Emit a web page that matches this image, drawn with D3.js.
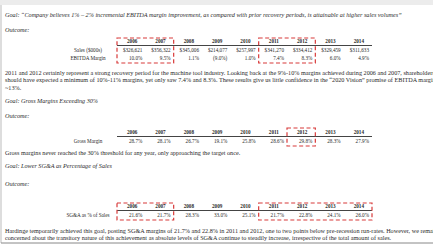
<!DOCTYPE html>
<html>
<head>
<meta charset="utf-8">
<script src="https://cdn.jsdelivr.net/npm/d3@7"></script>
<style>
  body { margin: 0; background: #fff; overflow: hidden; }
  svg text { font-family: "Liberation Serif", "Times New Roman", serif; fill: #2a2a2a; }
</style>
</head>
<body>
<svg id="canvas" width="433" height="247"></svg>
<script>
const years = ['2006', '2007', '2008', '2009', '2010', '2011', '2012', '2013', '2014'];

const sales = ['$326,621', '$356,322', '$345,006', '$214,077', '$257,997', '$341,270', '$334,412', '$329,459', '$311,633'];
const ebitdaMargin = ['10.0%', '9.5%', '1.1%', '(9.0%)', '1.0%', '7.4%', '8.3%', '6.0%', '4.9%'];
const grossMargin = ['28.7%', '28.1%', '26.7%', '19.1%', '25.8%', '28.6%', '29.8%', '28.3%', '27.9%'];
const sgaPct = ['21.6%', '21.7%', '28.3%', '33.0%', '25.1%', '21.7%', '22.8%', '24.1%', '26.0%'];

// highlighted year ranges per table
const box1 = [['2006', '2007'], ['2011', '2012']];
const box2 = [['2012', '2012']];
const box3 = [['2006', '2007'], ['2011', '2014']];

const goal1 = 'Goal: \u201cCompany believes 1% \u2013 2% incremental EBITDA margin improvement, as compared with prior recovery periods, is attainable at higher sales volumes\u201d';
const para1 = [
  '2011 and 2012 certainly represent a strong recovery period for the machine tool industry. Looking back at the 9%-10% margins achieved during 2006 and 2007, shareholders',
  'should have expected a minimum of 10%-11% margins, yet only saw 7.4% and 8.3%. These results give us little confidence in the \u201c2020 Vision\u201d promise of EBITDA margins of',
  '~13%.'
];
const goal2 = 'Goal: Gross Margins Exceeding 30%';
const para2 = ['Gross margins never reached the 30% threshold for any year, only approaching the target once.'];
const goal3 = 'Goal: Lower SG&A as Percentage of Sales';
const para3 = [
  'Hardinge temporarily achieved this goal, posting SG&A margins of 21.7% and 22.8% in 2011 and 2012, one to two points below pre-recession run-rates. However, we remain',
  'concerned about the transitory nature of this achievement as absolute levels of SG&A continue to steadily increase, irrespective of the total amount of sales.'
];

const svg = d3.select('#canvas');
const fs = 6.2;
const tfs = 5.2;

// page frame
svg.append('rect').attr('x', 0).attr('y', 0).attr('width', 433).attr('height', 5).attr('fill', '#ececec');
svg.append('line').attr('x1', 1).attr('x2', 1).attr('y1', 5).attr('y2', 243).attr('stroke', '#bbb');
svg.append('line').attr('x1', 1).attr('x2', 433).attr('y1', 243).attr('y2', 243).attr('stroke', '#888');

const x = d3.scaleBand().domain(years).range([117, 372]);

const textLine = (str, y, italic) => {
  svg.append('text')
    .attr('x', 5).attr('y', y)
    .attr('font-size', fs)
    .attr('font-style', italic ? 'italic' : 'normal')
    .text(str);
};

const paragraph = (lines, y0) => {
  lines.forEach((l, i) => textLine(l, y0 + i * 7.4, false));
};

const drawTable = (headerY, rows, boxes, boxTop, boxBottom) => {
  const g = svg.append('g');
  g.selectAll('text.year')
    .data(years)
    .enter()
    .append('text')
    .attr('class', 'year')
    .attr('x', (d) => x(d) + x.bandwidth() / 2 + 1)
    .attr('y', headerY)
    .attr('text-anchor', 'middle')
    .attr('font-size', tfs)
    .attr('font-weight', 'bold')
    .text((d) => d);

  g.append('line')
    .attr('x1', x.range()[0]).attr('x2', x.range()[1])
    .attr('y1', headerY + 2.5).attr('y2', headerY + 2.5)
    .attr('stroke', '#444').attr('stroke-width', 1);

  rows.forEach((row, i) => {
    const y = headerY + 9 + i * 8;
    g.append('text')
      .attr('x', 88).attr('y', y)
      .attr('text-anchor', 'middle')
      .attr('font-size', tfs)
      .text(row.label);
    g.selectAll(null)
      .data(row.values)
      .enter()
      .append('text')
      .attr('x', (d, j) => x(years[j]) + x.bandwidth() - 3)
      .attr('y', y)
      .attr('text-anchor', 'end')
      .attr('font-size', tfs)
      .text((d) => d);
  });

  g.selectAll('rect.box')
    .data(boxes)
    .enter()
    .append('rect')
    .attr('class', 'box')
    .attr('x', (d) => x(d[0]))
    .attr('y', boxTop)
    .attr('width', (d) => x(d[1]) + x.bandwidth() - x(d[0]))
    .attr('height', boxBottom - boxTop)
    .attr('fill', 'none')
    .attr('stroke', '#d83a3a')
    .attr('stroke-width', 1.2)
    .attr('stroke-dasharray', '4,2.5');
};

// section 1
textLine(goal1, 17, true);
textLine('Outcome:', 32, true);
drawTable(43, [
  { label: 'Sales ($000s)', values: sales },
  { label: 'EBITDA Margin', values: ebitdaMargin }
], box1, 38, 63);
paragraph(para1, 75);

// section 2
textLine(goal2, 103, true);
textLine('Outcome:', 118, true);
drawTable(134, [
  { label: 'Gross Margin', values: grossMargin }
], box2, 128, 146);
paragraph(para2, 155);

// section 3
textLine(goal3, 168, true);
textLine('Outcome:', 186, true);
drawTable(208, [
  { label: 'SG&A as % of Sales', values: sgaPct }
], box3, 203, 220);
paragraph(para3, 233);
</script>
</body>
</html>
